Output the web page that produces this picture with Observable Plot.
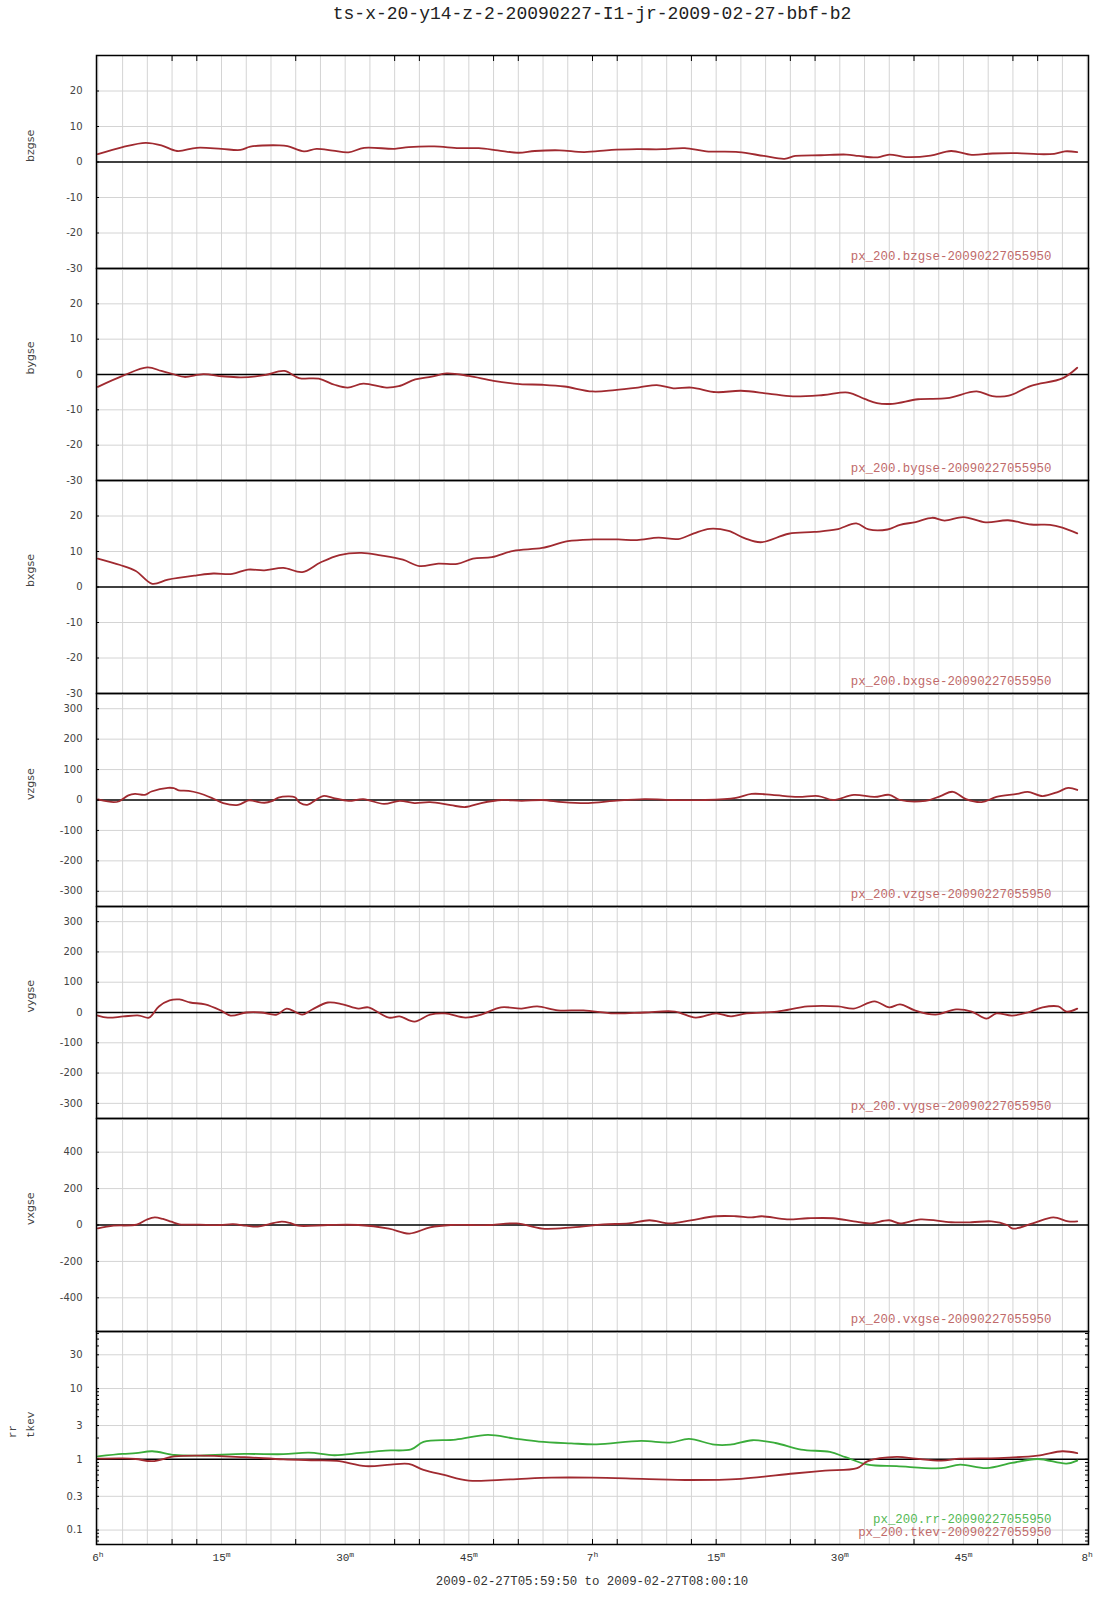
<!DOCTYPE html>
<html><head><meta charset="utf-8">
<script src="https://cdn.jsdelivr.net/npm/d3@7"></script>
<script src="https://cdn.jsdelivr.net/npm/@observablehq/plot@0.6"></script>
<style>
body{margin:0;background:#fff;}
#title{height:55px;width:1107px;box-sizing:border-box;padding-left:96px;padding-right:19px;text-align:center;font-family:"Liberation Mono",monospace;font-size:18px;line-height:28px;color:#222;}
#caption{width:1107px;box-sizing:border-box;padding-left:96px;padding-right:19px;text-align:center;font-family:"Liberation Mono",monospace;font-size:12.4px;line-height:16px;color:#333;}
svg g[aria-label="ytick"]{letter-spacing:1px;}
svg g[aria-label="x-axis tick label"]{font-family:"Liberation Mono",monospace;font-size:11px;fill:#333;}
</style>
</head><body>
<div id="title">ts-x-20-y14-z-2-20090227-I1-jr-2009-02-27-bbf-b2</div>
<div id="charts"></div>
<div id="caption">2009-02-27T05:59:50 to 2009-02-27T08:00:10</div>
<script>
// ---- data (minutes after 06:00 UT, values) ----
const bzT = [0,3,5.8,7.7,9.6,12,15,17.3,18.5,22,23,25,26.5,28.5,30.4,32.3,36,37.7,40.8,43.8,46.2,48.5,51,53,56,59,62.3,65.4,68.5,71.2,73.8,77.7,80.8,83.3,84.6,87.7,90.8,92.3,94.6,96,98,101,103.5,106,108.5,111.5,114,116,117.3,118.8];
const bzV = [2.2,4.2,5.4,4.7,3.1,4.0,3.7,3.4,4.3,4.7,4.5,3.0,3.7,3.2,2.7,4.0,3.7,4.2,4.4,3.9,3.9,3.3,2.6,3.1,3.3,2.8,3.4,3.6,3.6,3.9,3.0,2.8,1.7,0.9,1.7,1.9,2.1,1.7,1.3,2.1,1.4,1.8,3.1,2.0,2.4,2.5,2.2,2.3,3.0,2.8];

const byT = [0,3,6,7.7,9.3,10.5,12.8,15.1,17.4,20.2,22.6,24.4,26.8,28.7,30.3,32.2,35,36.5,38.5,40.5,42.3,45,48,51.2,53.9,56.6,60,62.7,65.8,67.8,69.8,72,75,78,81.3,84.3,88,91,93,94.5,96.4,99.5,103,106.6,108.5,110.5,113.2,117,118.8];
const byV = [-3.5,-0.4,2.0,1.0,0,-0.7,0.1,-0.5,-0.8,-0.2,1.0,-1.0,-1.2,-2.9,-3.7,-2.6,-3.7,-3.3,-1.4,-0.6,0.3,-0.4,-1.8,-2.7,-2.9,-3.4,-4.8,-4.4,-3.6,-3.0,-3.9,-3.7,-5.0,-4.6,-5.4,-6.2,-5.8,-5.1,-6.9,-8.1,-8.3,-7.0,-6.7,-4.8,-6.1,-6.0,-3.2,-1.1,1.9];

const bxT = [0,2.7,4.6,6.6,8.5,12,14,16.3,18.2,20.2,22.5,24.8,27,29.3,32,34.3,37,39,41.3,43.6,45.5,47.8,50.4,53.9,57,60.1,63.1,65.4,68,70.4,72.3,74.2,76.5,78.5,80.4,83.8,86.9,89.6,92,93.5,95.8,97.3,99.2,101.2,102.7,105,107.7,110.4,113.2,115.5,117,118.8];
const bxV = [8.0,6.2,4.5,0.9,2.1,3.3,3.8,3.7,4.9,4.7,5.4,4.2,6.9,9.0,9.6,8.9,7.7,5.9,6.6,6.5,8.0,8.4,10.2,11.0,12.9,13.4,13.4,13.2,13.9,13.5,15.1,16.4,15.8,13.7,12.6,15.0,15.5,16.2,17.9,16.2,16.2,17.5,18.3,19.5,18.7,19.7,18.2,18.8,17.6,17.5,16.7,15.1];

const vzT = [0,1.9,2.6,3.7,4.5,5.7,6.5,8.5,9.2,9.8,11,12.2,13.8,15.2,17,18.3,19,20.2,21.1,21.9,23.1,23.9,24.5,25.4,27.3,28.5,30.4,32.2,34.7,36.6,38.4,40.3,42.8,44.6,46.5,49,51.4,53.9,56.4,59.5,62.6,66.3,70,73.7,77.4,79.3,81.8,84.9,87.4,89.2,91.7,94.2,96,97.3,100.4,102.2,103.7,105.3,107.2,109,111.5,112.8,114.6,116.5,117.7,118.8];
const vzV = [2,-7,-4,15,20,17,28,40,39,32,30,23,7,-10,-16,-1,-4,-9,-4,8,12,9,-9,-16,13,7,-3,3,-13,-3,-10,-7,-17,-23,-10,0,-3,0,-7,-10,-3,3,0,0,7,20,17,10,13,0,17,10,17,0,-3,13,27,3,-7,10,20,27,13,27,40,33];

const vyT = [0,1.2,3.1,5,6.2,7.4,8.7,9.9,11.2,13,14.9,16.1,18,19.8,21.7,22.9,24.8,26,27.9,29.7,31.6,32.8,35.3,36.6,38.4,40.3,42.1,44.6,46.5,48.9,51.4,53.3,55.8,58.9,62.6,66.3,70,72.5,75,76.8,78.7,82.4,86.1,89.8,91.7,94.2,96,97.3,99.1,101.6,104.1,106,107.8,109,110.9,112.8,114.6,116.5,117.5,118.8];
const vyV = [-10,-17,-13,-10,-17,20,40,43,33,27,7,-10,0,0,-7,13,-7,10,33,27,13,17,-17,-13,-30,-7,-3,-17,-7,17,13,20,7,7,-3,0,3,-17,-3,-13,-3,3,20,20,13,37,17,27,7,-7,10,3,-20,-3,-10,0,17,20,3,13];

const vxT = [0,1.9,4.7,5.9,6.9,7.9,8.9,9.9,12.3,14.8,16.4,18,19.4,20.8,22.3,23.3,24.3,27.9,31.6,35.3,37.8,40.3,42.8,45.2,47.7,50.8,53.9,57.6,61.3,64.4,66.9,69.4,71.9,75,77.4,79.3,80.5,83.6,86.1,89.2,91.7,93.6,96,97.3,99.8,103.5,106,108.4,110.3,111,113.4,115.9,117.7,118.8];
const vxV = [-18,-4,2,29,42,33,18,4,2,0,5,-4,-9,5,18,11,-4,0,0,-20,-47,-13,0,0,0,9,-20,-13,3,9,26,9,26,48,48,42,48,31,37,37,20,9,26,9,31,15,15,20,0,-20,9,42,20,20];

const rrT = [0,3,4.6,6.6,9.3,12.4,17.8,22.5,25.6,28.7,31.8,34.9,38,39.5,43.4,47.3,50.4,53.5,57.4,60.5,65.9,69.4,71.7,74.8,76.7,79.4,82.2,85.3,88.8,90.7,93.4,96.9,102.3,104.6,107.8,110.9,114,117.5,118.8];
const rrV = [1.10,1.19,1.22,1.30,1.15,1.13,1.19,1.18,1.24,1.14,1.23,1.33,1.38,1.76,1.90,2.21,1.98,1.78,1.68,1.63,1.82,1.72,1.94,1.61,1.61,1.86,1.70,1.37,1.27,1.07,0.84,0.80,0.75,0.84,0.75,0.89,1.01,0.87,0.96];

const tkT = [0,3,4.6,6.6,9.3,12.4,17.8,22.5,26.3,29,32.5,35.5,37.7,39.5,42,45,50,55,60,66,72,78,84.4,88.2,92.1,93.4,96.9,99.2,102.3,104.6,109.3,114,117,118.8];
const tkV = [1.02,1.03,1.01,0.94,1.10,1.13,1.07,1.0,0.97,0.95,0.80,0.84,0.86,0.71,0.60,0.50,0.52,0.55,0.55,0.53,0.51,0.53,0.63,0.69,0.75,0.94,1.08,1.02,0.96,1.02,1.04,1.13,1.30,1.22];

// axes / ticks
const bTicks = [20,10,0,-10,-20,-30];
const vTicks = [300,200,100,0,-100,-200,-300];
const vxTicks = [400,200,0,-200,-400];
const logTicks = [30,10,3,1,0.3,0.1];
const logMinor = [0.07,0.08,0.09,0.2,0.4,0.5,0.6,0.7,0.8,0.9,2,4,5,6,7,8,9,20,40,50,60];
const xLabelMin = [0,15,30,45,60,75,90,105,120];
const xLabelText = ["6h","15m","30m","45m","7h","15m","30m","45m","8h"];
const xTickMin = [9,12,24,36,39,48,51,60,63,72,75,84,87,99,111,114];
const gridMin = d3.range(0,121,3);

const t0 = Date.UTC(2009,1,27,6,0,0);
const D = m => new Date(t0 + m*60000);
const xDomain = [new Date(t0 - 10000), new Date(t0 + 120*60000 + 10000)];
const rows = (T,V) => T.map((m,i)=>({t:D(m), v:V[i]}));

const RED = "#a02a30", GREEN = "#3aac3a", LEG_RED = "#c06a6a", LEG_GREEN = "#55b955";
const STAMP = "20090227055950";
const FRAME_W = 1107 - 96 - 19;

function panel(o){
  const marks = [
    Plot.gridX(gridMin.map(D), {stroke:"#d4d4d4", strokeOpacity:1}),
    Plot.ruleY(o.ticks.filter(d=>d!==o.ref), {y:d=>d, stroke:"#d4d4d4", strokeWidth:1}),
    Plot.ruleY([o.ref], {y:d=>d, stroke:"#000", strokeWidth:1.4}),
  ];
  for (const s of o.series) marks.push(Plot.line(s.data, {x:"t", y:"v", stroke:s.color, strokeWidth:1.8, curve:"catmull-rom"}));
  marks.push(Plot.frame({stroke:"#000", strokeWidth:1.5}));
  marks.push(Plot.text(o.ticks, {y:d=>d, text:d=>String(d), frameAnchor:"left", dx:-14, textAnchor:"end", fontFamily:"DejaVu Sans", fontSize:10, fill:"#444", ariaLabel:"ytick"}));
  marks.push(Plot.ruleY(o.ticks, {y:d=>d, insetRight:FRAME_W-3, stroke:"#000"}));
  if (o.minor) {
    marks.push(Plot.ruleY(o.minor, {y:d=>d, insetRight:FRAME_W-3, stroke:"#000"}));
    marks.push(Plot.ruleY(o.minor.concat(o.ticks), {y:d=>d, insetLeft:FRAME_W-3, stroke:"#000"}));
  }
  if (o.first) marks.push(Plot.axisX(xTickMin.map(D), {anchor:"top", tickSize:-5, tickFormat:()=>"", label:null}));
  if (o.last) {
    marks.push(Plot.axisX(xTickMin.map(D), {anchor:"bottom", tickSize:-5, tickFormat:()=>"", label:null}));
    marks.push(Plot.axisX(xLabelMin.map(D), {anchor:"bottom", tickSize:0, tickPadding:9, tickFormat:(d,i)=>xLabelText[i], label:null}));
  }
  o.labels.forEach(L => marks.push(Plot.text([L.text], {frameAnchor:"left", dx:L.dx, rotate:-90, text:d=>d, fontSize:11, fontFamily:L.font, fill:"#444"})));
  o.legends.forEach(L => marks.push(Plot.text([L.text], {frameAnchor:"bottom-right", dx:-37, dy:L.dy, lineAnchor:"middle", textAnchor:"end", text:d=>d, fill:L.color, fontFamily:"Liberation Mono", fontSize:12.4})));
  const svg = Plot.plot({
    width:1107, height:o.height + (o.last?30:0),
    marginLeft:96, marginRight:19, marginTop:0, marginBottom:o.last?30:0,
    style:"background:transparent;overflow:visible;display:block;",
    x:{type:"utc", domain:xDomain, axis:null, label:null},
    y:{type:o.type||"linear", domain:o.domain, axis:null, label:null},
    marks
  });
  if (o.last) {
    d3.select(svg).selectAll('g[aria-label="x-axis tick label"] text').each(function(){
      const s = this.textContent; if (!s) return;
      this.textContent = s.slice(0,-1);
      const ts = document.createElementNS("http://www.w3.org/2000/svg","tspan");
      ts.setAttribute("dy","-0.55em"); ts.setAttribute("font-size","8");
      ts.textContent = s.slice(-1);
      this.appendChild(ts);
    });
  }
  return svg;
}

const host = document.getElementById("charts");
const sans = "DejaVu Sans", mono = "Liberation Mono";
const defs = [
  {name:"bzgse", T:bzT, V:bzV, ticks:bTicks, domain:[-30,30], height:213, first:true},
  {name:"bygse", T:byT, V:byV, ticks:bTicks, domain:[-30,30], height:212},
  {name:"bxgse", T:bxT, V:bxV, ticks:bTicks, domain:[-30,30], height:213},
  {name:"vzgse", T:vzT, V:vzV, ticks:vTicks, domain:[-350,350], height:213},
  {name:"vygse", T:vyT, V:vyV, ticks:vTicks, domain:[-350,350], height:212},
  {name:"vxgse", T:vxT, V:vxV, ticks:vxTicks, domain:[-585,585], height:213},
];
defs.forEach(d => host.appendChild(panel({
  series:[{data:rows(d.T,d.V), color:RED}], ticks:d.ticks, ref:0, domain:d.domain, height:d.height, first:d.first,
  labels:[{text:d.name, dx:-66, font:sans}],
  legends:[{text:`px_200.${d.name}-${STAMP}`, dy:-12, color:LEG_RED}]
})));
host.appendChild(panel({
  series:[{data:rows(rrT,rrV), color:GREEN},{data:rows(tkT,tkV), color:RED}],
  ticks:logTicks, minor:logMinor, ref:1, type:"log", domain:[0.0625,64], height:213, last:true,
  labels:[{text:"rr", dx:-84, font:mono},{text:"tkev", dx:-66, font:mono}],
  legends:[{text:`px_200.rr-${STAMP}`, dy:-25, color:LEG_GREEN},{text:`px_200.tkev-${STAMP}`, dy:-12, color:LEG_RED}]
}));
</script>
</body></html>
